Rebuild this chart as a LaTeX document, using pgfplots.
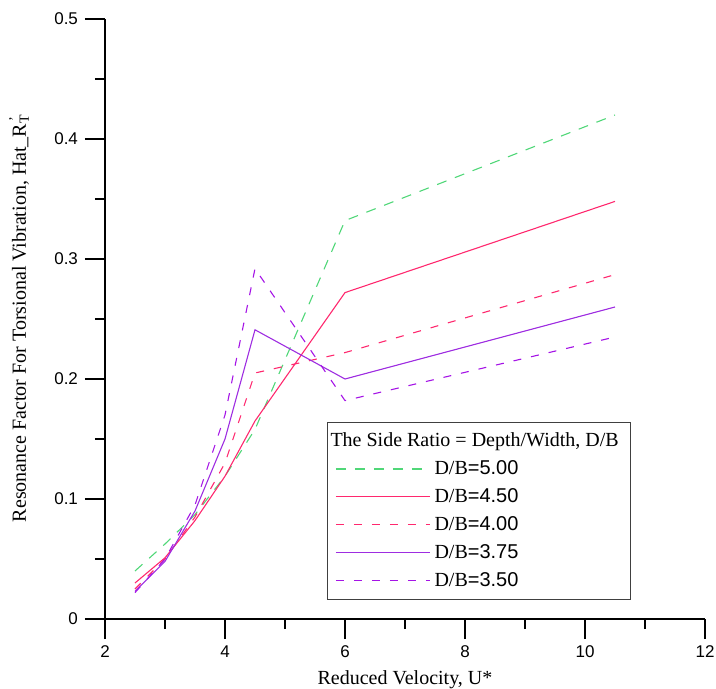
\documentclass[border=0pt]{standalone}
\usepackage{pgfplots}
\pgfplotsset{compat=1.18}
\usepackage{fontspec}
\setmainfont{Liberation Serif}
\newfontfamily\arialfont{Liberation Sans}
\definecolor{cgreen}{RGB}{80,215,120}
\definecolor{cpink}{RGB}{255,40,110}
\definecolor{cpurple}{RGB}{158,45,225}
\definecolor{cpurpled}{RGB}{165,20,230}
\begin{document}
\begin{tikzpicture}
\begin{axis}[
  scale only axis, width=300pt, height=300pt,
  xmin=2, xmax=12, ymin=0, ymax=0.5,
  axis lines=left, axis line style={-, black, line width=0.6pt},
  xtick={2,4,6,8,10,12}, ytick={0,0.1,0.2,0.3,0.4,0.5},
  minor x tick num=1, minor y tick num=1,
  tick align=outside, major tick length=10pt, minor tick length=5pt,
  every tick/.style={black, line width=0.6pt},
  scaled y ticks=false,
  /pgf/number format/assume math mode=true,
  ticklabel style={font=\arialfont\fontsize{8.5}{10}\selectfont},
  label style={font=\fontsize{10}{12}\selectfont},
  xlabel={Reduced Velocity, U*},
  ylabel={Resonance Factor For Torsional Vibration, Hat\_R\rlap{\textsubscript{T}}\textsuperscript{\,'}},
  xlabel style={at={(axis description cs:0.5,-0.1017)}, anchor=center},
  ylabel style={at={(axis description cs:-0.1433,0.5)}, anchor=center, rotate=0},
  legend style={at={(axis description cs:0.37,0.328)}, anchor=north west,
    draw=black!75, fill=white, font=\fontsize{10}{12}\selectfont,
    inner xsep=4pt, inner ysep=3pt, row sep=1.5pt},
  legend cell align=left,
  legend image code/.code={\draw[#1] (0pt,0pt) -- (47pt,0pt);},
]
\addlegendimage{empty legend}
\addlegendentry{\hspace*{-52pt}The Side Ratio = Depth/Width, D/B}
\addplot[cgreen, line width=0.55pt, dash pattern=on 5pt off 4.5pt] coordinates {
 (2.5,0.040) (3,0.0625) (3.5,0.087) (4,0.119) (4.5,0.158) (6,0.332) (10.5,0.420)};
\addlegendentry{D/B{\arialfont =5.00}}
\addplot[cpink, line width=0.55pt] coordinates {
 (2.5,0.030) (3,0.051) (3.5,0.082) (4,0.119) (4.5,0.165) (6,0.272) (10.5,0.348)};
\addlegendentry{D/B{\arialfont =4.50}}
\addplot[cpink, line width=0.55pt, dash pattern=on 4pt off 5pt] coordinates {
 (2.5,0.025) (3,0.050) (3.5,0.085) (4,0.130) (4.5,0.205) (6,0.222) (10.5,0.287)};
\addlegendentry{D/B{\arialfont =4.00}}
\addplot[cpurple, line width=0.55pt] coordinates {
 (2.5,0.023) (3,0.048) (3.5,0.090) (4,0.150) (4.5,0.241) (6,0.200) (10.5,0.260)};
\addlegendentry{D/B{\arialfont =3.75}}
\addplot[cpurpled, line width=0.55pt, dash pattern=on 4pt off 5pt] coordinates {
 (2.5,0.022) (3,0.050) (3.5,0.095) (4,0.170) (4.5,0.292) (6,0.182) (10.5,0.235)};
\addlegendentry{D/B{\arialfont =3.50}}
\coordinate (SW) at (rel axis cs:0,0);
\coordinate (NE) at (rel axis cs:1,1);
\end{axis}
\pgfresetboundingbox
\path ([xshift=-52.5pt,yshift=-35pt]SW) rectangle ([xshift=5.5pt,yshift=9.5pt]NE);
\end{tikzpicture}
\end{document}
